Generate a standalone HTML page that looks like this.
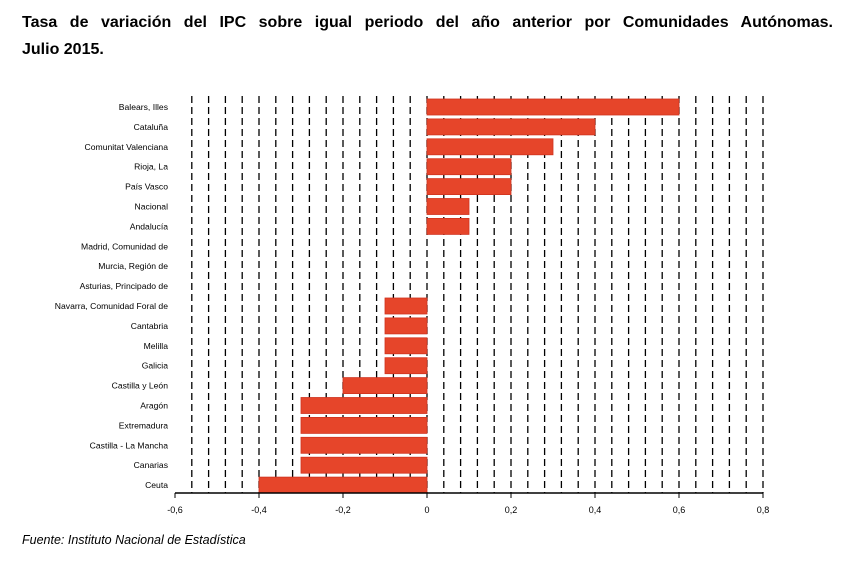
<!DOCTYPE html>
<html><head><meta charset="utf-8"><style>
body{margin:0;background:#fff;width:856px;height:579px;overflow:hidden;font-family:"Liberation Sans",sans-serif}
.t{position:absolute;left:22px;top:9px;width:811px;font-weight:bold;font-size:16px;line-height:27px;color:#000}
.l1{text-align:justify;text-align-last:justify;white-space:nowrap}
.s{position:absolute;left:22px;top:533px;font-style:italic;font-size:12.5px;color:#000}
</style></head><body>
<div class="t"><div class="l1">Tasa de variación del IPC sobre igual periodo del año anterior por Comunidades Autónomas.</div><div>Julio 2015.</div></div>
<svg id="c" width="856" height="579" style="position:absolute;left:0;top:0"></svg>
<div class="s">Fuente: Instituto Nacional de Estadística</div>
<script>
const categories=["Balears, Illes","Cataluña","Comunitat Valenciana","Rioja, La","País Vasco","Nacional","Andalucía","Madrid, Comunidad de","Murcia, Región de","Asturias, Principado de","Navarra, Comunidad Foral de","Cantabria","Melilla","Galicia","Castilla y León","Aragón","Extremadura","Castilla - La Mancha","Canarias","Ceuta"];
const values=[0.6,0.4,0.3,0.2,0.2,0.1,0.1,0,0,0,-0.1,-0.1,-0.1,-0.1,-0.2,-0.3,-0.3,-0.3,-0.3,-0.4];
const tickValues=[-0.6,-0.4,-0.2,0,0.2,0.4,0.6,0.8];
const tickLabels=["-0,6","-0,4","-0,2","0","0,2","0,4","0,6","0,8"];
const xMin=-0.6,xMax=0.8,L=175,R=763,T=96,B=493,rowTop=97,rowH=19.9;
const x=v=>L+(v-xMin)/(xMax-xMin)*(R-L);
const y=i=>rowTop+i*rowH;
const svg=document.getElementById('c');const NS='http://www.w3.org/2000/svg';
function mk(t,a){const e=document.createElementNS(NS,t);for(const k in a)e.setAttribute(k,a[k]);svg.appendChild(e);return e;}
for(let v=xMin+0.04;v<xMax+0.001;v+=0.04){
 const g=mk('line',{x1:x(v),x2:x(v),y1:T,y2:B,stroke:'#000','stroke-width':1.3,'stroke-dasharray':'7,4'});
 
 
}
categories.forEach((c,i)=>{
 const v=values[i];
 if(v!==0){
  const r=mk('rect',{x:Math.min(x(0),x(v)),y:y(i)+2,width:Math.abs(x(v)-x(0)),height:16,fill:'#e6452a',stroke:'#d0321f','stroke-width':0.8});
  
  
 }
 const t=mk('text',{x:168,y:y(i)+13,'text-anchor':'end','font-size':8.6,'font-family':'Liberation Sans, sans-serif'});
 t.textContent=c;
 
 
});
const ax=mk('line',{x1:L,x2:R,y1:B,y2:B,stroke:'#000','stroke-width':1.5});


tickValues.forEach((v,i)=>{
 const tk=mk('line',{x1:x(v),x2:x(v),y1:B,y2:B+5,stroke:'#000','stroke-width':1});
 
 
 const t=mk('text',{x:x(v),y:B+20,'text-anchor':'middle','font-size':9,'font-family':'Liberation Sans, sans-serif'});
 t.textContent=tickLabels[i];
 
 
});
</script>
</body></html>
